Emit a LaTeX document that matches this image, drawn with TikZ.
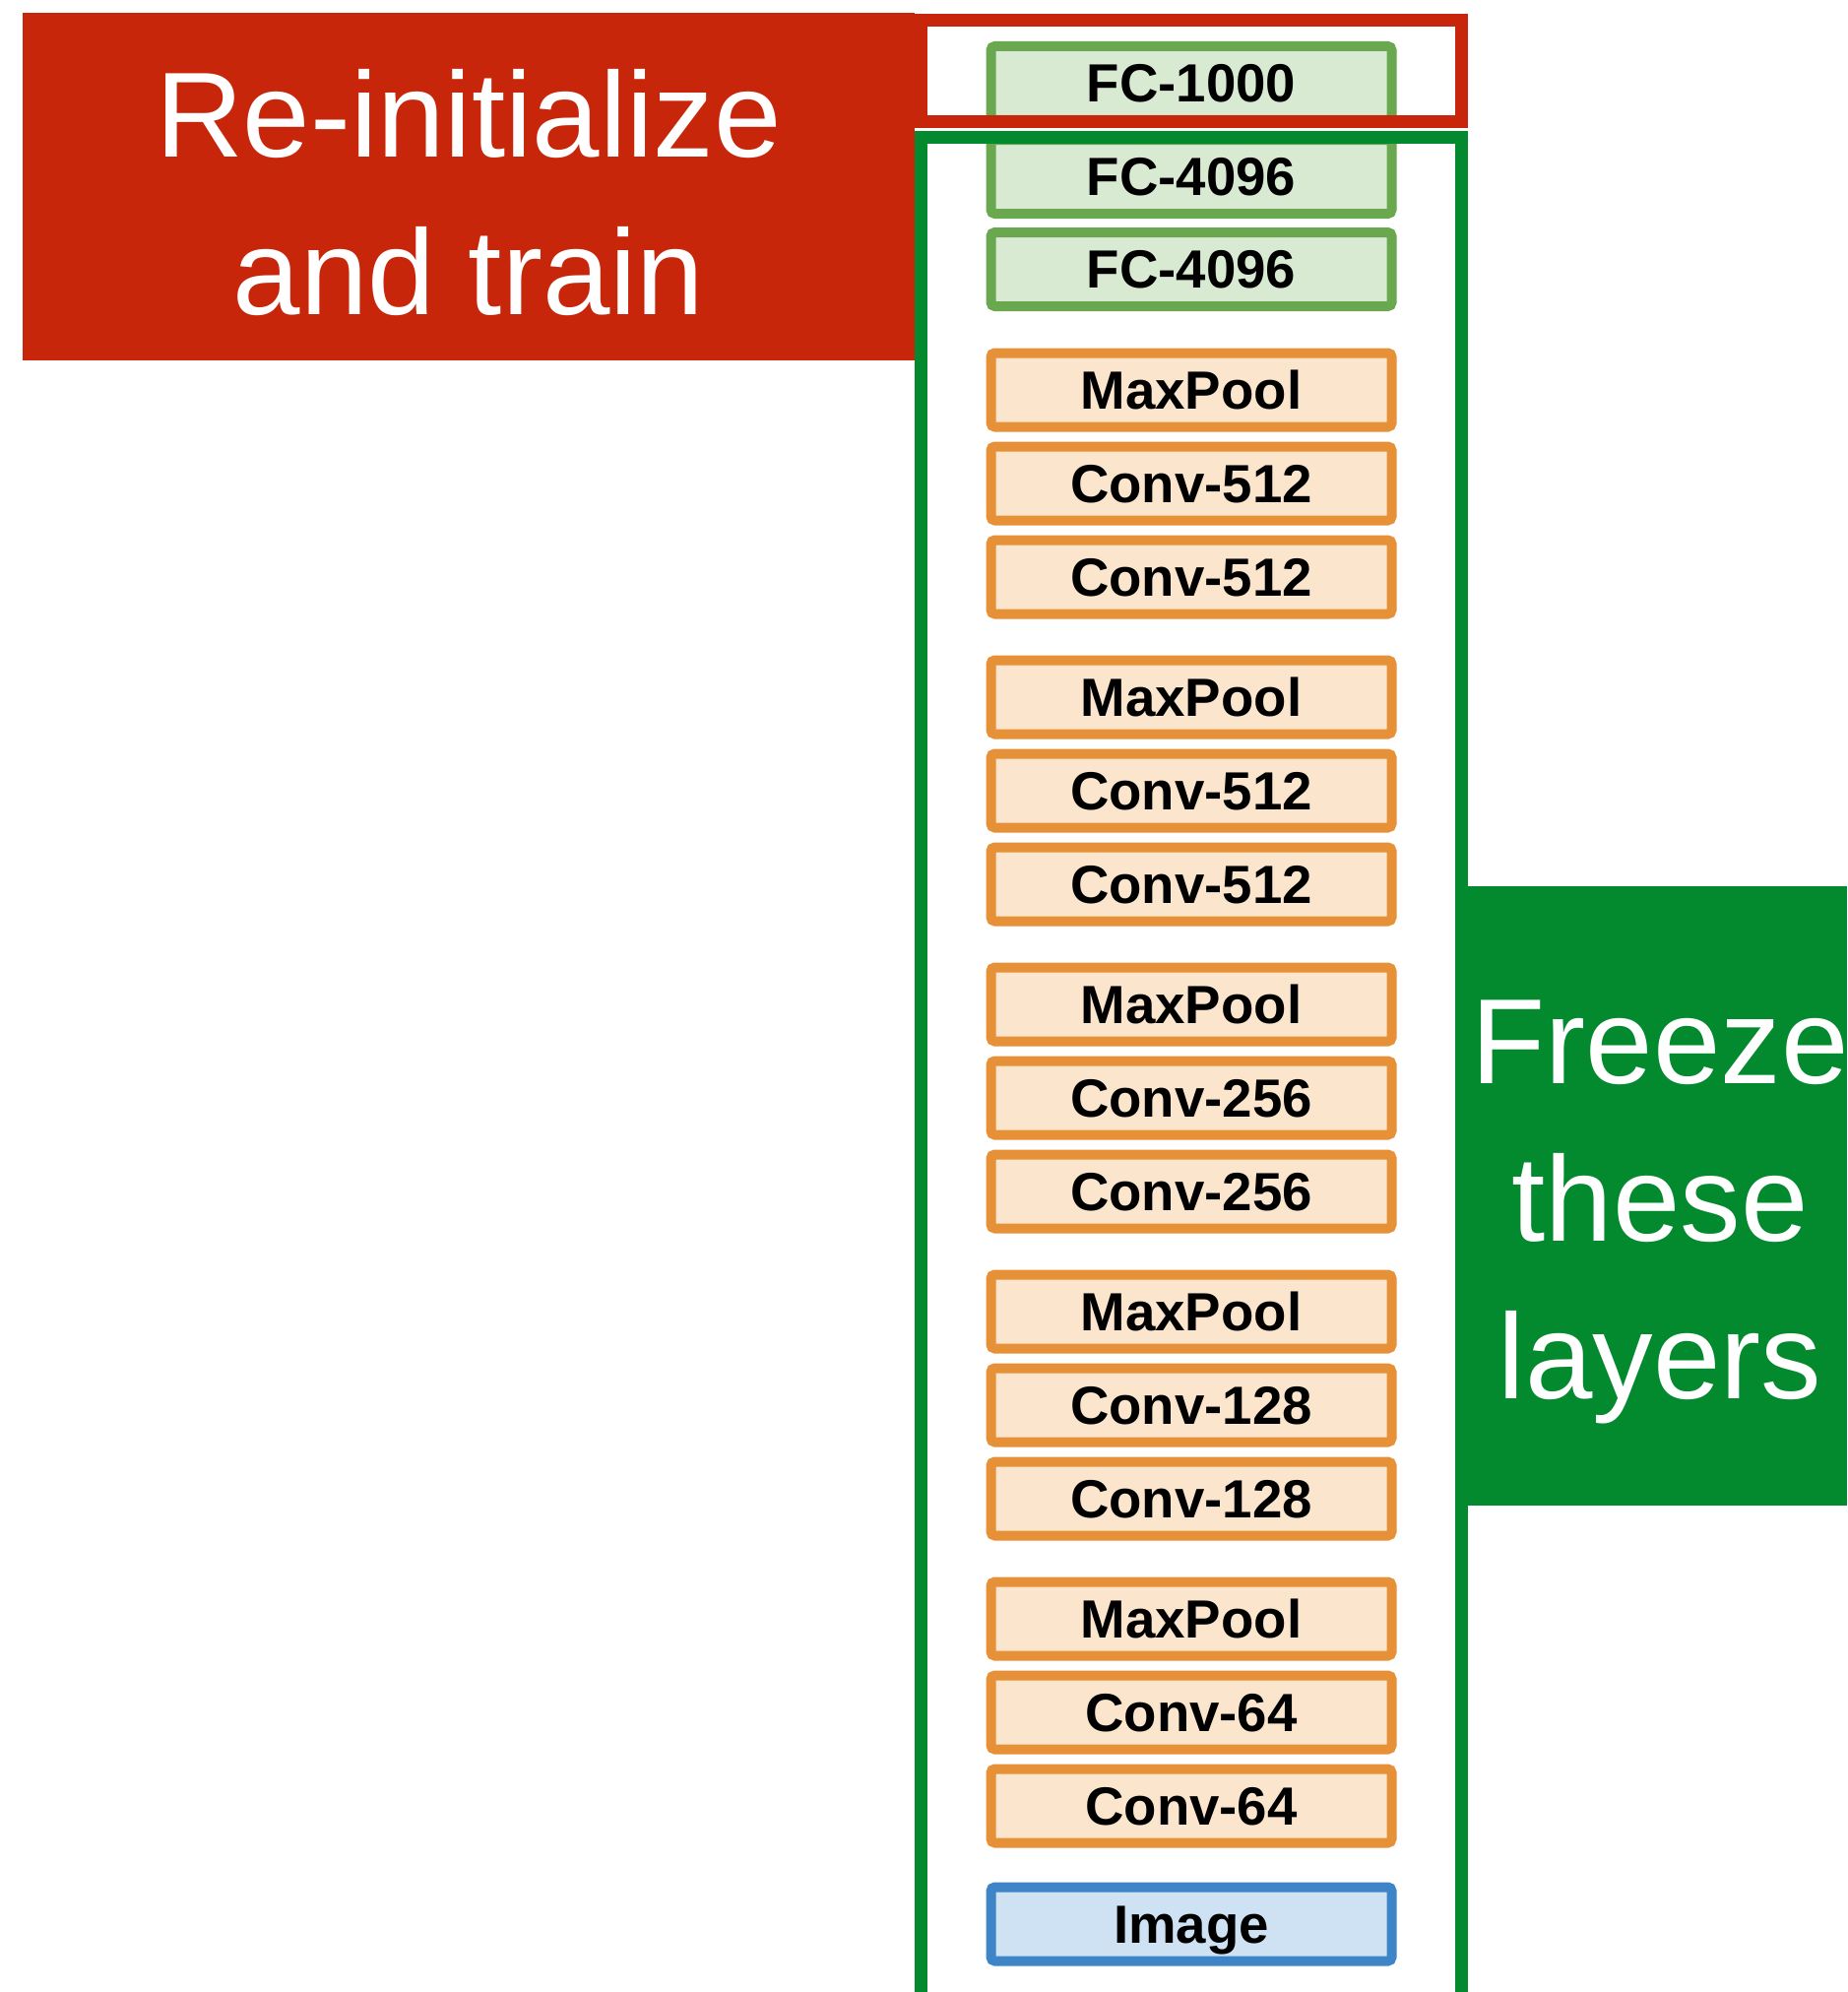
\documentclass[tikz,border=0pt]{standalone}
\usepackage{fontspec}
\setmainfont{Liberation Sans}

\definecolor{redbox}{RGB}{200,38,10}
\definecolor{greenbox}{RGB}{3,137,46}
\definecolor{fcfill}{RGB}{217,234,211}
\definecolor{fcdraw}{RGB}{106,168,79}
\definecolor{convfill}{RGB}{252,229,205}
\definecolor{convdraw}{RGB}{230,145,56}
\definecolor{imgfill}{RGB}{207,226,243}
\definecolor{imgdraw}{RGB}{61,133,198}

\tikzset{
  layer/.style={rectangle, rounded corners=2pt, line width=5pt,
    minimum width=203.5pt, minimum height=37.5pt, inner sep=0pt,
    text height=19.3pt, text depth=0pt,
    font=\fontsize{27.3}{27.3}\selectfont\bfseries},
  fc/.style={layer, draw=fcdraw, fill=fcfill},
  conv/.style={layer, draw=convdraw, fill=convfill},
  img/.style={layer, draw=imgdraw, fill=imgfill},
  bigtext/.style={text=white, align=center, inner sep=0pt,
    font=\fontsize{61.5}{80}\selectfont}
}

\begin{document}
\begin{tikzpicture}[x=0.5pt,y=-0.5pt]
  \useasboundingbox (0,0) rectangle (1876,2023);

  % fully connected part
  \node[fc] (fc1000) at (1210,84.5) {FC-1000};
  \node[fc] (fcb) at (1210,179.5) {FC-4096};
  \node[fc] (fca) at (1210,273.5) {FC-4096};

  % conv blocks, top to bottom
  \foreach \k/\m in {0/512, 1/512, 2/256, 3/128, 4/64} {
    \node[conv] (pool\k) at (1210,{396+312*\k}) {MaxPool};
    \node[conv] (convb\k) at (1210,{491+312*\k}) {Conv-\m};
    \node[conv] (conva\k) at (1210,{586+312*\k}) {Conv-\m};
  }
  \node[img] (image) at (1210,1954) {Image};

  % frames around the layers
  \draw[redbox, line width=6.5pt] (935.5,20.5) rectangle (1484.5,123.5);
  \draw[greenbox, line width=6.5pt] (935.5,139.5) rectangle (1484.5,2040);

  % labels
  \fill[redbox] (23,13) rectangle (929,366);
  \node[bigtext] (retrain) at (476,196) {Re-initialize\\and train};
  \fill[greenbox] (1484.5,900) rectangle (1876,1529);
  \node[bigtext] (freeze) at (1686,1231) {Freeze\\these\\layers};
\end{tikzpicture}
\end{document}
